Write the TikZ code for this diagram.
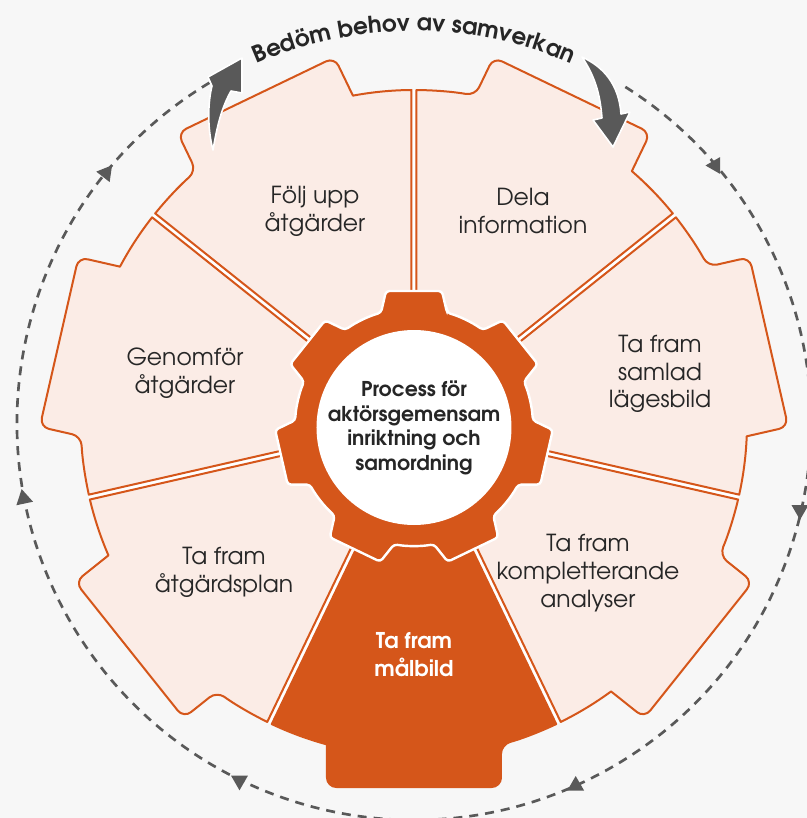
\documentclass[tikz,border=0pt]{standalone}
\usepackage{fontspec}
\setmainfont{TeX Gyre Adventor}
\usetikzlibrary{calc,decorations.text,shapes.geometric}
\definecolor{org}{HTML}{D5561A}
\definecolor{pnk}{HTML}{FBECE6}
\definecolor{bgc}{HTML}{F7F7F7}
\definecolor{gry}{HTML}{595959}
\definecolor{txt}{HTML}{262626}
% one wheel segment centred at angle #1, style #2
\newcommand{\segshape}[2]{%
  \path[#2] ($({#1-25.714}:90)+({#1+64.286}:2.5)$)
    -- ($({#1-25.714}:333)+({#1+64.286}:2.5)$)
    arc[start angle={#1-25.284}, end angle={#1-15.146}, radius=333]
    [rounded corners=7pt] -- ($({#1}:364)+({#1-90}:87)$)
    -- ($({#1}:364)+({#1+90}:87)$)
    -- ({#1+15.146}:333) [sharp corners]
    arc[start angle={#1+15.146}, end angle={#1+25.284}, radius=333]
    -- ($({#1+25.714}:90)+({#1-64.286}:2.5)$) -- cycle;}
\begin{document}
\begin{tikzpicture}[x=0.75pt,y=0.75pt,
  seg/.style={draw=org, line width=1.5pt, fill=pnk, line join=round},
  segdark/.style={draw=org, line width=1.5pt, fill=org, line join=round},
  lbl/.style={align=center, text=txt, font=\fontsize{17.6pt}{20.8pt}\selectfont},
  lbldark/.style={align=center, text=white, font=\bfseries\fontsize{16.3pt}{21pt}\selectfont},
  ctr/.style={align=center, text=txt, font=\bfseries\fontsize{15.3pt}{18.5pt}\selectfont},
  gearst/.style={fill=org, draw=white, line width=1.8pt, rounded corners=2.5pt},
  grarrow/.style={fill=gry, draw=white, line width=1.2pt, line join=round},
  dashst/.style={draw=gry, line width=2pt, dash pattern=on 6.75pt off 5.25pt},
  tri/.style={regular polygon, regular polygon sides=3, fill=gry, minimum size=14.7pt, inner sep=0pt}]
\fill[bgc] (-414,-395) rectangle (393,423);
\useasboundingbox (-414,-395) rectangle (393,423);

% dashed cycle with arrowheads
\draw[dashst] (121:397) arc[start angle=121, end angle=418, radius=397];
\node[tri, rotate=90]  (t1) at (301.3,257.5) {};
\node[tri, rotate=180] (t2) at (386,-87) {};
\node[tri, rotate=0]   (t3) at (161.7,-362.8) {};
\node[tri, rotate=180] (t4) at (-174.5,-357.5) {};
\node[tri, rotate=12]  (t5) at (-390.3,-75.7) {};
\node[tri, rotate=82]  (t6) at (-308,250) {};

% white base under the segments (shows in the gaps)
\fill[white] (0,0) circle[radius=333];

% segments
\segshape{64.286}{seg}
\segshape{12.857}{seg}
\segshape{-38.571}{seg}
\segshape{-90}{segdark}
\segshape{-141.429}{seg}
\segshape{167.143}{seg}
\segshape{115.714}{seg}

% gear
\begin{scope}[shift={(0,-4)}]
\path[gearst] (73.9:119)
  \foreach \t in {90,141.4286,192.8571,244.2857,295.7143,347.1429,398.5714}{
    -- ($(\t:136)+({\t-90}:28)$) -- ($(\t:136)+({\t+90}:28)$)
    -- ({\t+16.1}:119) arc[start angle={\t+16.1}, end angle={\t+35.3286}, radius=119]
  } -- cycle;
\fill[white] (0,-0.5) circle[radius=97.5];
\end{scope}

% labels
\node[ctr] (c) at (0,-5) {Process för\\aktörsgemensam\\inriktning och\\samordning};
\node[lbl] (s1) at (109,212) {Dela\\information};
\node[lbl] (s2) at (246,49) {Ta fram\\samlad\\lägesbild};
\node[lbl] (s3) at (174,-150) {Ta fram\\kompletterande\\analyser};
\node[lbldark] (s4) at (0,-232) {Ta fram\\målbild};
\node[lbl] (s5) at (-190,-149) {Ta fram\\åtgärdsplan};
\node[lbl] (s6) at (-229,50) {Genomför\\åtgärder};
\node[lbl] (s7) at (-99,212) {Följ upp\\åtgärder};

% curved grey arrows
\path[grarrow] (-201,273) .. controls (-207,296) and (-206,321) .. (-202,337)
  -- (-206,346) -- (-172,365) -- (-172,330) -- (-183,332)
  .. controls (-193,314) and (-197,296) .. (-201,273) -- cycle;
\path[grarrow] (168,366) .. controls (190,356) and (205,338) .. (207,309)
  -- (216,311) -- (199,276) -- (179,303) -- (188,305)
  .. controls (186,331) and (180,348) .. (168,366) -- cycle;

% title along the arc
\path[decorate, decoration={text along path, text align=center,
  text={|\color{txt}\bfseries\fontsize{17.3pt}{17.3pt}\selectfont|Bedöm behov av samverkan}}]
  (122:392) arc[start angle=122, end angle=58, radius=392];
\end{tikzpicture}
\end{document}
